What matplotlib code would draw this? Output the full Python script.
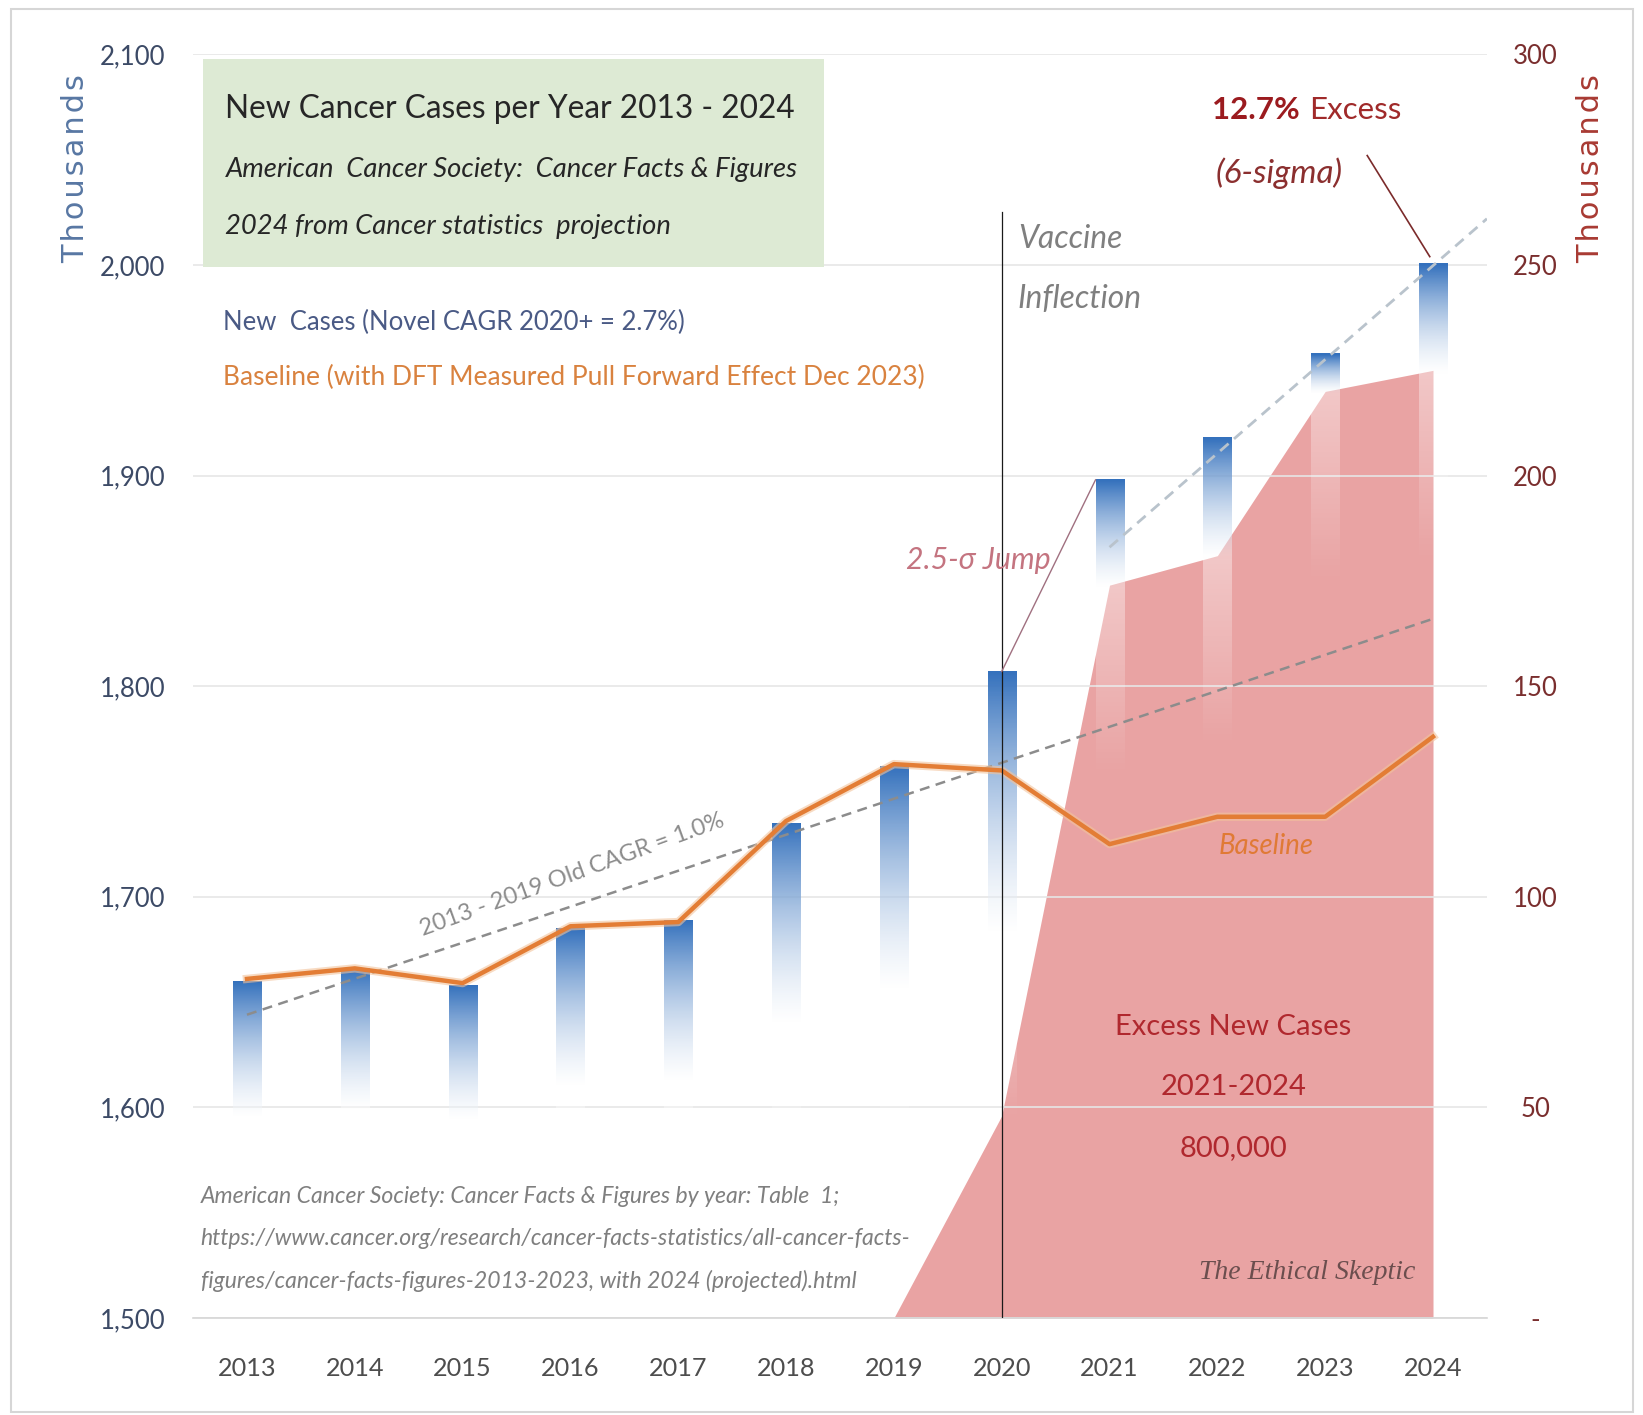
import numpy as np
import matplotlib
matplotlib.use('Agg')
import matplotlib.pyplot as plt
import matplotlib.patheffects as pe
from matplotlib.colors import to_rgb
from matplotlib.patches import Rectangle

plt.rcParams['font.family'] = ['Lato', 'DejaVu Sans']

# ─── Data (thousands) ─────────────────────────────────────────────────────────
YEARS      = ['2013', '2014', '2015', '2016', '2017', '2018',
              '2019', '2020', '2021', '2022', '2023', '2024']
NEW_CASES  = [1660, 1666, 1658, 1685, 1689, 1735, 1762, 1807, 1898, 1918, 1958, 2001]
BASELINE   = [1661, 1666, 1659, 1686, 1688, 1736, 1763, 1760, 1725, 1738, 1738, 1776]

EXCESS_YEARS = ['2019', '2020', '2021', '2022', '2023', '2024']
EXCESS       = [0, 48, 174, 181, 220, 225]          # right axis

OLD_TREND_X   = [0, 11]          # 2013 -> 2024
OLD_TREND     = [1644, 1832]
NOVEL_TREND_X = [8.0, 11.5]      # 2021 -> right edge
NOVEL_TREND   = [1866, 2022]

LEFT_TICKS   = [1500, 1600, 1700, 1800, 1900, 2000, 2100]
LEFT_LABELS  = ['1,500', '1,600', '1,700', '1,800', '1,900', '2,000', '2,100']
RIGHT_TICKS  = [0, 50, 100, 150, 200, 250, 300]
RIGHT_LABELS = ['-', '50', '100', '150', '200', '250', '300']

# ─── Figure ───────────────────────────────────────────────────────────────────
fig = plt.figure(figsize=(16.43, 14.15), dpi=100)
ax = fig.add_axes([0.1175, 0.0686, 0.7875, 0.8929])
ax2 = ax.twinx()
ax.set_zorder(ax2.get_zorder() + 1)
ax.patch.set_visible(False)

x = np.arange(len(YEARS))
ex_x = np.array([YEARS.index(y) for y in EXCESS_YEARS])

# excess area on the right axis
ax2.fill_between(ex_x, 0, EXCESS, color='#E9A3A3', lw=0, zorder=1)

# gradient bars
BAR_W = 0.26
blue = np.array(to_rgb('#3471BD'))
red_top = 1500 + 2 * np.interp(x, ex_x, EXCESS, left=0)
for xi, top, rt in zip(x, NEW_CASES, red_top):
    n = 300
    v = np.linspace(1500, top, n)
    h = top - 1500
    fade_end = max(top - 0.4 * h, rt)
    t = np.clip((top - v) / (top - fade_end), 0, 1)
    rgba = np.ones((n, 1, 4))
    rgba[:, 0, :3] = blue[None, :] * (1 - t)[:, None] + t[:, None]
    a = np.where(v >= fade_end, 1 - 0.6 * t,
                 0.4 * np.clip(1 - (fade_end - v) / 90, 0, 1))
    rgba[:, 0, 3] = a
    ax.imshow(rgba, extent=[xi - BAR_W / 2, xi + BAR_W / 2, 1500, top],
              origin='lower', aspect='auto', interpolation='bilinear', zorder=3)

# trend lines
ax.plot(OLD_TREND_X, OLD_TREND, color='#8C8C8C', lw=1.8, dashes=(4, 2.6), zorder=4)
ax.plot(NOVEL_TREND_X, NOVEL_TREND, color='#B9C3CC', lw=2.0, dashes=(4, 2.6), zorder=4)

# baseline
ax.plot(x, BASELINE, color='#E37D35', lw=3.2, zorder=5, solid_joinstyle='round',
        path_effects=[pe.Stroke(linewidth=6, foreground='#F3C39B', alpha=0.6), pe.Normal()])

# vaccine inflection line + annotation lines
ax.plot([7, 7], [1500, 2025], color='#1A1A1A', lw=0.9, zorder=6)
ax.plot([7.0, 7.87], [1807, 1898], color='#A07080', lw=1.0, zorder=6)
ax.plot([10.39, 10.97], [2052, 2004], color='#7B2B2B', lw=1.2, zorder=6)

# title box
ax.add_patch(Rectangle((-0.41, 1999), 5.76, 99, fc='#DDEAD4', ec='none', zorder=2))

# ─── Axes styling ─────────────────────────────────────────────────────────────
ax.set_xlim(-0.5, 11.5)
ax.set_ylim(1500, 2100)
ax2.set_ylim(0, 300)
ax.set_xticks(x, YEARS)
ax.set_yticks(LEFT_TICKS, LEFT_LABELS)
ax2.set_yticks(RIGHT_TICKS, RIGHT_LABELS)
ax.set_axisbelow(True)
ax.grid(axis='y', color='#E6E6E6', lw=1.2)
for s in ['top', 'left', 'right']:
    ax.spines[s].set_visible(False)
for s in ax2.spines.values():
    s.set_visible(False)
ax.spines['bottom'].set_color('#D6D6D6')
ax.spines['bottom'].set_linewidth(1.2)
ax.tick_params(axis='x', length=0, pad=28, labelsize=18.2, labelcolor='#4D4D4D')
ax.tick_params(axis='y', length=0, pad=20, labelsize=18.5, labelcolor='#3C4A66')
ax2.tick_params(axis='y', length=0, pad=35, labelsize=18.5, labelcolor='#7A2E2E')
for lbl in ax2.get_yticklabels():
    lbl.set_ha('center')

# ─── Text ─────────────────────────────────────────────────────────────────────
ax.text(-0.2, 2074, 'New Cancer Cases per Year 2013 - 2024', fontsize=22.8,
        color='#262626', va='center', zorder=7)
ax.text(-0.2, 2045.3, 'American  Cancer Society:  Cancer Facts & Figures',
        fontsize=19.7, style='italic', color='#262626', va='center', zorder=7)
ax.text(-0.2, 2018.4, '2024 from Cancer statistics  projection',
        fontsize=19.7, style='italic', color='#262626', va='center', zorder=7)
ax.text(-0.22, 1972.6, 'New  Cases (Novel CAGR 2020+ = 2.7%)', fontsize=18.5,
        color='#4A5A85', va='center', zorder=7)
ax.text(-0.22, 1946.8, 'Baseline (with DFT Measured Pull Forward Effect Dec 2023)',
        fontsize=19, color='#D9823F', va='center', zorder=7)

ax.text(7.15, 2012.4, 'Vaccine', fontsize=22.9, style='italic', color='#7F7F7F',
        va='center', zorder=7)
ax.text(7.15, 1984, 'Inflection', fontsize=22.9, style='italic', color='#7F7F7F',
        va='center', zorder=7)

ax.text(9.76, 2073.6, '12.7%', fontsize=22.5, weight='bold', color='#9B1B1F',
        ha='right', va='center', zorder=7)
ax.text(9.85, 2073.6, 'Excess', fontsize=22.5, color='#A02A2A',
        ha='left', va='center', zorder=7)
ax.text(8.98, 2043.8, '(6-sigma)', fontsize=24, style='italic', color='#8B2F2F',
        ha='left', va='center', zorder=7)

ax.text(7.45, 1859.7, '2.5-σ Jump', fontsize=21.8, style='italic', color='#C47480',
        ha='right', va='center', zorder=7)
ax.text(3.02, 1710.4, '2013 - 2019 Old CAGR = 1.0%', fontsize=17, color='#8C8C8C',
        rotation=20, ha='center', va='center', rotation_mode='anchor', zorder=7)
ax.text(9.45, 1723.9, 'Baseline', fontsize=19.8, style='italic', color='#E07A35',
        ha='center', va='center', zorder=7)

for yy, s in zip([1638.3, 1609.5, 1580.6], ['Excess New Cases', '2021-2024', '800,000']):
    ax.text(9.15, yy, s, fontsize=21, color='#B0282E', ha='center', va='center', zorder=7)

ax.text(9.83, 1521.4, 'The Ethical Skeptic', fontsize=20, style='italic',
        family=['Liberation Serif', 'DejaVu Serif'], color='#6B4E4E',
        ha='center', va='center', zorder=7)

src = ['American Cancer Society: Cancer Facts & Figures by year: Table  1;',
       'https://www.cancer.org/research/cancer-facts-statistics/all-cancer-facts-',
       'figures/cancer-facts-figures-2013-2023, with 2024 (projected).html']
for yy, s in zip([1557.7, 1537.8, 1517.4], src):
    ax.text(-0.43, yy, s, fontsize=16.6, style='italic', color='#7F7F7F',
            ha='left', va='center', zorder=7)

spaced = '\u200a'.join('Thousands')
fig.text(75.5 / 1643, 0.8806, spaced, rotation=90, ha='center', va='center',
         fontsize=22, color='#5877A3', family=['DejaVu Sans'])
fig.text(1591 / 1643, 0.8806, spaced, rotation=90, ha='center', va='center',
         fontsize=22, color='#A83A33', family=['DejaVu Sans'])

fig.add_artist(Rectangle((0.0067, 0.002), 0.987, 0.9916, transform=fig.transFigure,
                         fill=False, ec='#D6D6D6', lw=1.5))

fig.savefig('out.png', dpi=100)
